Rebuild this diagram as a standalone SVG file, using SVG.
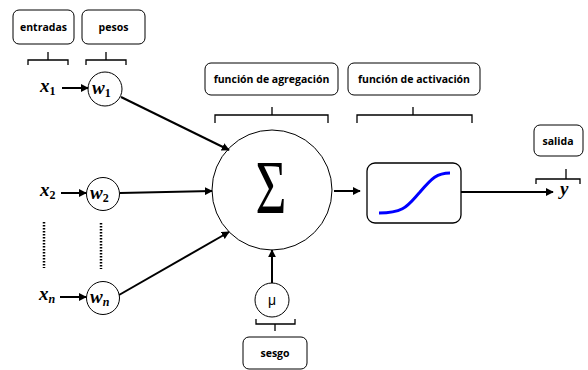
<svg xmlns="http://www.w3.org/2000/svg" width="588" height="370" viewBox="0 0 588 370">
<defs>
<marker id="ah" viewBox="0 0 10 10" refX="9" refY="5" markerWidth="4" markerHeight="4" orient="auto" markerUnits="strokeWidth">
<path d="M0,0 L10,5 L0,10 z" fill="#000"/>
</marker>
</defs>
<style>
.lbl{fill:#fff;stroke:#000;stroke-width:1}
.lt{font-family:"Open Sans","Liberation Sans",sans-serif;font-weight:bold;font-size:10.5px;text-anchor:middle;fill:#000}
.br{fill:none;stroke:#000;stroke-width:1.3}
.nd{fill:#fff;stroke:#000;stroke-width:1}
.m{font-family:"Liberation Serif","DejaVu Serif",serif;font-style:italic;font-weight:bold;font-size:19px;fill:#000}
.sub{font-size:12px;font-style:normal}
.subi{font-size:12px;font-style:italic}
.ar{fill:none;stroke:#000;stroke-width:2;marker-end:url(#ah)}
.dot{fill:none;stroke:#000;stroke-width:2.5;stroke-dasharray:1.5 1.5}
</style>
<g id="lbl-entradas"><rect class="lbl" x="13" y="10" width="61" height="34" rx="6"/><text class="lt" x="43.5" y="31">entradas</text></g>
<g id="lbl-pesos"><rect class="lbl" x="82" y="10" width="63" height="34" rx="6"/><text class="lt" x="113.5" y="31">pesos</text></g>
<g id="lbl-agregacion"><rect class="lbl" x="205" y="63" width="133" height="32" rx="6"/><text class="lt" x="271.5" y="83">función de agregación</text></g>
<g id="lbl-activacion"><rect class="lbl" x="348" y="63" width="132" height="32" rx="6"/><text class="lt" x="414" y="83">función de activación</text></g>
<g id="lbl-salida"><rect class="lbl" x="534" y="125" width="49" height="31" rx="6"/><text class="lt" x="558" y="145">salida</text></g>
<g id="lbl-sesgo"><rect class="lbl" x="243" y="337" width="64" height="32" rx="6"/><text class="lt" x="275" y="357">sesgo</text></g>
<g id="brackets">
<path class="br" d="M28,65 V60 H68 V65 M48,60 V52"/>
<path class="br" d="M86,65 V60 H126 V65 M106,60 V52"/>
<path class="br" d="M215,123 V115 H328 V123 M272,115 V107"/>
<path class="br" d="M357,123 V115 H472 V123 M413,115 V107"/>
<path class="br" d="M536,184 V179 H580 V184 M566,179 V169"/>
<path class="br" d="M256,319 V324 H295 V319 M275,324 V331"/>
</g>
<g id="x1"><text class="m" x="40" y="92">x<tspan class="sub" dy="3">1</tspan></text></g>
<g id="x2"><text class="m" x="40" y="196">x<tspan class="sub" dy="3">2</tspan></text></g>
<g id="xn"><text class="m" x="39" y="300">x<tspan class="subi" dy="3">n</tspan></text></g>
<g id="w1"><circle class="nd" cx="105" cy="89" r="17"/><text class="m" x="92" y="94">w<tspan class="sub" dy="3">1</tspan></text></g>
<g id="w2"><circle class="nd" cx="103" cy="194" r="16.5"/><text class="m" x="90" y="199">w<tspan class="sub" dy="3">2</tspan></text></g>
<g id="wn"><circle class="nd" cx="103" cy="298" r="16.5"/><text class="m" x="90" y="303">w<tspan class="subi" dy="3">n</tspan></text></g>
<g id="sum"><circle class="nd" cx="272" cy="190" r="60"/><text x="0" y="0" transform="translate(271,213) scale(0.7,1)" font-family="'Liberation Serif','DejaVu Serif',serif" font-size="76" text-anchor="middle">Σ</text></g>
<g id="mu"><circle class="nd" cx="272" cy="300" r="17"/><text x="272" y="305" font-family="'Liberation Sans',sans-serif" font-size="14" text-anchor="middle">μ</text></g>
<g id="activacion"><rect x="367" y="163" width="94" height="60" rx="8" fill="#fff" stroke="#000" stroke-width="1.3"/><path d="M379,213 C405,213 408,205 420,192 C432,178 437,173 450,173" fill="none" stroke="#0000ff" stroke-width="3"/></g>
<g id="y"><text class="m" x="560" y="195">y</text></g>
<g id="connectors">
<line class="ar" x1="62" y1="88" x2="88" y2="88"/>
<line class="ar" x1="61" y1="193" x2="86" y2="193"/>
<line class="ar" x1="60" y1="297" x2="86" y2="297"/>
<line class="ar" x1="121" y1="97" x2="229" y2="150"/>
<line class="ar" x1="120" y1="193" x2="212" y2="191"/>
<line class="ar" x1="119" y1="295" x2="229" y2="232"/>
<line class="ar" x1="272" y1="283" x2="272" y2="250"/>
<line class="ar" x1="334" y1="191" x2="360" y2="191"/>
<line class="ar" x1="461" y1="192" x2="553" y2="192"/>
<line class="dot" x1="44" y1="222" x2="44" y2="268"/>
<line class="dot" x1="101" y1="223" x2="101" y2="269"/>
</g>
</svg>
